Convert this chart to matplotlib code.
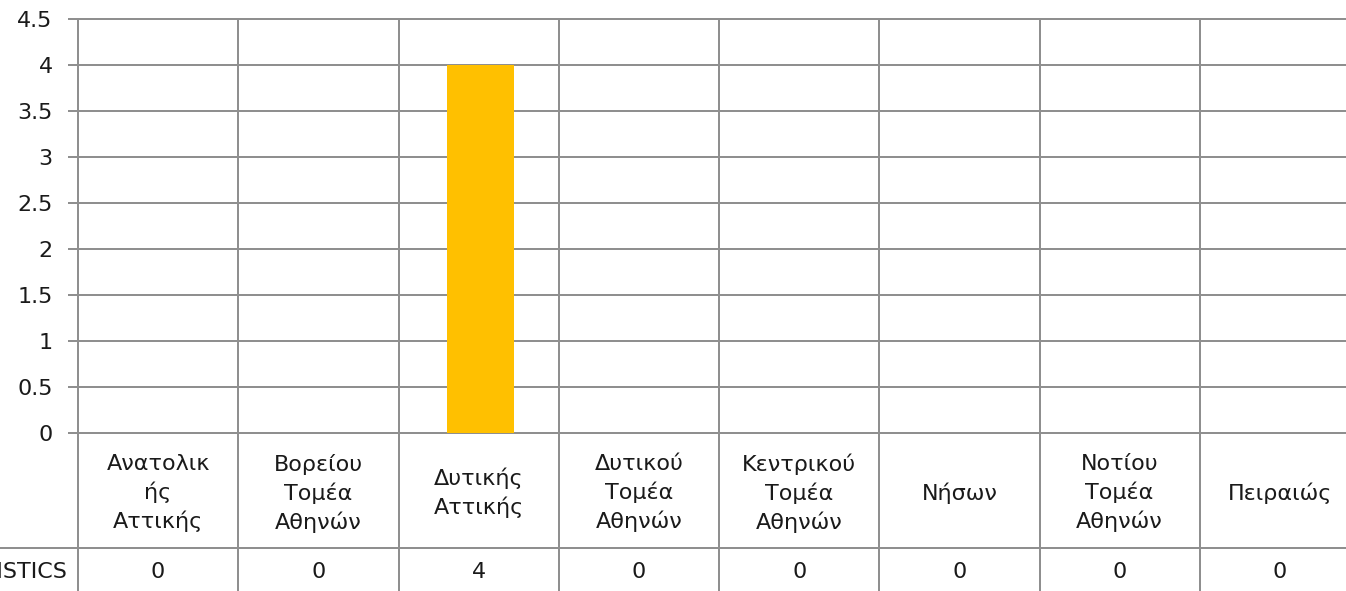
import matplotlib.pyplot as plt
import matplotlib.transforms as mtransforms

# data
categories = ['Ανατολικ\nής\nΑττικής', 'Βορείου\nΤομέα\nΑθηνών', 'Δυτικής\nΑττικής',
              'Δυτικού\nΤομέα\nΑθηνών', 'Κεντρικού\nΤομέα\nΑθηνών', 'Νήσων',
              'Νοτίου\nΤομέα\nΑθηνών', 'Πειραιώς']
values = [0, 0, 4, 0, 0, 0, 0, 0]
series_name = 'LOGISTICS'
yticks = [0, 0.5, 1, 1.5, 2, 2.5, 3, 3.5, 4, 4.5]
ytick_labels = ['0', '0.5', '1', '1.5', '2', '2.5', '3', '3.5', '4', '4.5']

plt.rcParams['font.family'] = ['DejaVu Sans']
grid_color = '#8f8f8f'
text_color = '#1a1a1a'
fs = 16

fig = plt.figure(figsize=(13.46, 5.91), dpi=100)
ax = fig.add_axes([78 / 1346, 1 - 433 / 591, (1360 - 78) / 1346, (433 - 19) / 591])

x = list(range(len(categories)))
ax.bar([xi + 0.01 for xi in x], values, width=0.42, color='#FFC000', zorder=3)

ax.set_xlim(-0.5, len(categories) - 0.5)
ax.set_ylim(0, 4.5)
ax.set_yticks(yticks)
ax.set_yticklabels(ytick_labels, fontsize=fs, color=text_color)
ax.set_xticks([])
ax.tick_params(axis='y', length=7.2, width=1.44, color=grid_color, pad=11)
for s in ax.spines.values():
    s.set_visible(False)

ax.grid(axis='y', color=grid_color, linewidth=1.44, zorder=1)
ax.set_axisbelow(True)
for gl in ax.get_ygridlines():
    gl.set_clip_on(False)

# table below the chart
row1_bottom = (433 - 548) / 414
table_bottom = -0.45
for i in range(len(categories) + 1):
    ax.axvline(i - 0.5, ymin=table_bottom, ymax=1, color=grid_color,
               linewidth=1.44, clip_on=False, zorder=2)
ax.plot([-0.1, 1.0], [row1_bottom, row1_bottom], transform=ax.transAxes,
        color=grid_color, linewidth=1.44, clip_on=False)

trans = mtransforms.blended_transform_factory(ax.transData, ax.transAxes)
for i, (cat, v) in enumerate(zip(categories, values)):
    ax.text(i, -0.145, cat, transform=trans, ha='center', va='center',
            fontsize=fs, linespacing=1.43, color=text_color)
    ax.text(i, -0.336, str(v), transform=trans, ha='center', va='center',
            fontsize=fs, color=text_color)
ax.text(-0.0078, -0.336, series_name, transform=ax.transAxes, ha='right',
        va='center', fontsize=fs, color=text_color)

fig.savefig('out.png', dpi=100)
